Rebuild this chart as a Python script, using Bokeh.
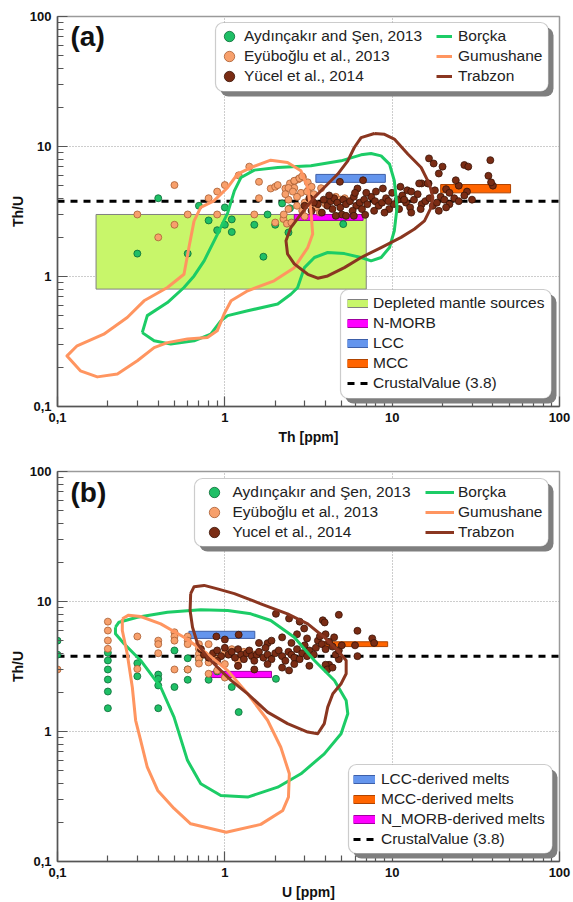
from bokeh.plotting import figure
from bokeh.layouts import column
from bokeh.models import FixedTicker, Legend, LegendItem, BoxAnnotation, Label
from bokeh.embed import file_html
from bokeh.resources import INLINE

FONT = "Liberation Sans"
CRUSTAL_VALUE = 3.8
AXIS_RANGE = (0.1, 100)
MAJOR_TICKS = [0.1, 1, 10, 100]
MINOR_TICKS = [0.2, 0.3, 0.4, 0.5, 0.6, 0.7, 0.8, 0.9,
               2, 3, 4, 5, 6, 7, 8, 9, 20, 30, 40, 50, 60, 70, 80, 90]
TICK_LABELS = {0.1: "0,1", 1: "1", 10: "10", 100: "100"}

GREEN_FILL, GREEN_EDGE = "#1fbf66", "#0b6a36"
ORANGE_FILL, ORANGE_EDGE = "#f7a06c", "#a85e34"
BROWN_FILL, BROWN_EDGE = "#7a2c14", "#3a1407"
GREEN_LINE, ORANGE_LINE, BROWN_LINE = "#1ccc66", "#ff9560", "#8a3620"
LIME, MAGENTA, BLUE, MCC_ORANGE = "#c8f66a", "#ff00ff", "#6495ed", "#ff6400"

# ---------------- panel (a): Th vs Th/U ----------------
a_aydincakir = [(0.40, 4.0), (0.70, 3.5), (1.0, 3.4), (2.2, 3.65), (2.45, 3.35), (0.80, 2.7),
                (1.1, 2.75), (1.0, 2.5), (0.9, 2.27), (1.1, 2.2), (1.5, 2.5), (1.8, 3.0),
                (2.0, 2.5), (2.4, 2.18), (5.1, 2.53), (0.30, 1.5), (0.60, 1.5), (1.7, 1.42)]
a_eyuboglu = [(0.5, 5.05), (0.3, 3.0), (0.6, 3.0), (0.5, 2.5), (0.4, 2.0), (0.9, 3.0), (0.8, 4.0),
              (0.9, 4.5), (1.0, 5.05), (1.21, 6.0), (1.4, 7.0), (1.6, 5.35), (1.6, 4.0), (1.5, 3.0),
              (1.88, 4.75), (2.0, 4.9), (2.07, 5.05), (2.3, 4.75), (2.45, 5.2), (2.6, 5.4),
              (2.75, 5.6), (2.93, 5.78), (2.24, 2.77), (2.35, 2.55), (2.4, 3.3), (2.4, 3.9),
              (2.6, 5.45), (2.79, 5.7), (2.9, 5.9), (3.13, 5.3), (3.2, 4.8), (2.6, 4.8), (2.4, 4.8),
              (2.55, 4.5), (2.85, 4.4), (3.1, 4.5), (3.3, 4.9), (3.76, 4.78), (2.25, 3.0), (2.5, 2.6),
              (2.7, 3.5), (2.9, 3.2), (3.0, 3.7), (3.3, 3.9), (3.5, 3.4), (3.7, 3.1), (4.0, 3.6),
              (4.3, 4.0), (4.6, 4.1), (4.9, 3.9), (5.2, 4.0), (5.4, 3.8), (2.3, 4.3), (2.7, 4.1),
              (3.4, 4.3), (2.0, 2.6), (3.0, 2.9)]
a_yucel = [(4.87, 5.35), (6.7, 5.5), (16.6, 8.1), (17.7, 7.4), (20.0, 7.0), (19.0, 6.2), (27.0, 7.2),
           (28.5, 7.0), (38.6, 7.85), (37.6, 5.95), (40.0, 5.0), (39.0, 5.3), (25.0, 5.0), (24.0, 5.5),
           (28.0, 4.5), (21.0, 4.7), (22.0, 4.4), (16.5, 5.2), (15.0, 5.2), (11.2, 4.9), (6.2, 4.75),
           (8.8, 4.75), (12.3, 4.6), (14.5, 5.2), (16.3, 5.2), (3.6, 3.6), (3.9, 3.9), (4.1, 3.5),
           (4.3, 3.8), (4.5, 4.0), (4.7, 3.7), (4.9, 3.4), (5.1, 3.9), (5.3, 3.6), (5.6, 3.8),
           (5.9, 4.1), (6.1, 3.5), (6.4, 3.7), (6.8, 3.9), (7.1, 3.6), (7.5, 4.1), (7.9, 3.8),
           (8.3, 3.5), (8.7, 3.7), (9.2, 4.0), (9.6, 3.3), (10.2, 3.6), (10.8, 3.9), (11.5, 4.2),
           (12.1, 3.7), (12.8, 3.4), (13.5, 3.9), (14.2, 4.3), (15.0, 3.6), (15.8, 3.8), (16.7, 4.0),
           (17.5, 3.5), (18.5, 3.7), (19.5, 4.1), (20.5, 3.9), (22.0, 3.6), (23.5, 4.0), (25.0, 3.8),
           (27.0, 4.2), (30.0, 3.9), (3.3, 3.2), (3.8, 3.1), (4.4, 3.3), (5.0, 3.0), (5.8, 3.2),
           (6.6, 3.3), (7.8, 3.2), (9.0, 3.1), (11.0, 3.3), (13.0, 3.1), (14.8, 3.3), (19.0, 3.2),
           (21.0, 3.4), (4.6, 2.93), (5.3, 2.93), (5.9, 2.93), (6.9, 2.98), (6.0, 4.4), (7.0, 4.4),
           (8.0, 4.5), (10.0, 4.4), (13.0, 4.5), (18.0, 4.6), (9.5, 3.8), (11.8, 3.9), (4.2, 4.2),
           (3.4, 3.7), (3.0, 3.5), (3.2, 4.0)]

a_borcka_th = [0.321, 0.344, 0.454, 0.57, 0.655, 0.752, 0.904, 1.04, 1.14, 1.25, 1.50, 2.07, 3.27,
               4.95, 6.52, 7.48, 8.59, 9.64, 10.3, 10.7, 10.3, 9.64, 8.59, 7.48, 6.52, 5.18, 4.12,
               3.43, 2.99, 2.72, 2.48, 2.07, 1.37, 1.04, 0.946, 0.824, 0.655, 0.475, 0.378]
a_borcka_ratio = [0.37, 0.50, 0.63, 0.823, 1.01, 1.32, 2.12, 3.09, 4.56, 5.78, 6.58, 6.89, 7.11,
                  7.76, 8.63, 8.83, 8.47, 7.32, 5.45, 3.40, 2.25, 1.67, 1.40, 1.32, 1.40, 1.50, 1.53,
                  1.40, 1.17, 0.82, 0.73, 0.614, 0.545, 0.50, 0.456, 0.36, 0.32, 0.302, 0.32]
a_gumushane_th = [0.655, 0.718, 0.86, 1.04, 1.19, 1.43, 1.88, 2.37, 2.85, 3.13, 3.27, 3.35, 3.13,
                  2.60, 1.97, 1.37, 1.09, 0.99, 0.90, 0.787, 0.598, 0.454, 0.378, 0.30, 0.228,
                  0.173, 0.137, 0.114, 0.131, 0.189, 0.261, 0.329, 0.454, 0.57, 0.61]
a_gumushane_ratio = [2.68, 3.40, 3.82, 4.84, 6.14, 6.89, 7.85, 7.53, 6.50, 4.84, 3.20, 2.12, 1.67,
                     1.17, 0.927, 0.776, 0.65, 0.514, 0.382, 0.34, 0.33, 0.31, 0.284, 0.225, 0.178,
                     0.169, 0.188, 0.245, 0.293, 0.36, 0.484, 0.65, 0.823, 1.04, 1.67]
a_trabzon_th = [7.83, 6.52, 5.94, 5.43, 4.73, 3.93, 3.43, 2.85, 2.48, 2.32, 2.37, 2.60, 3.13, 3.59,
                4.12, 5.18, 6.52, 8.59, 11.3, 13.6, 15.6, 17.1, 17.5, 16.7, 14.9, 12.4, 10.3, 9.0]
a_trabzon_ratio = [12.6, 11.7, 9.82, 7.76, 6.14, 4.84, 4.06, 3.02, 2.38, 1.88, 1.49, 1.25, 1.04, 0.97,
                   1.01, 1.17, 1.40, 1.67, 2.0, 2.32, 2.68, 3.40, 4.06, 5.14, 6.89, 8.75, 11.4, 12.4]

# boxes: (left, right, bottom, top)
a_depleted = (0.17, 7.0, 0.8, 3.0)
a_nmorb = (2.6, 6.7, 2.7, 3.0)
a_lcc = (3.5, 9.1, 5.3, 6.1)
a_mcc = (19.5, 51.0, 4.4, 5.1)

# ---------------- panel (b): U vs Th/U ----------------
b_aydincakir = [(0.1, 5.0), (0.1, 3.9), (0.2, 4.03), (0.2, 3.52), (0.2, 3.0), (0.2, 2.51), (0.2, 2.03),
                (0.2, 1.51), (0.3, 3.35), (0.3, 2.66), (0.4, 2.74), (0.4, 2.54), (0.4, 2.26),
                (0.4, 1.51), (0.5, 4.2), (0.5, 2.2), (0.6, 3.66), (0.6, 3.0), (0.6, 2.5), (0.7, 3.6),
                (0.8, 2.5), (0.9, 2.9), (1.1, 2.2), (1.21, 1.41), (2.02, 2.54)]
b_eyuboglu = [(0.1, 3.0), (0.2, 7.0), (0.2, 5.98), (0.2, 5.01), (0.2, 4.33), (0.3, 5.38), (0.3, 3.03),
              (0.4, 5.0), (0.4, 4.7), (0.4, 4.0), (0.5, 5.8), (0.5, 5.38), (0.5, 5.0), (0.5, 3.0),
              (0.6, 5.38), (0.6, 5.0), (0.6, 4.7), (0.6, 3.0), (0.7, 4.7), (0.7, 4.33), (0.7, 3.96),
              (0.7, 3.64), (0.7, 3.33), (0.8, 4.7), (0.8, 2.78), (0.9, 2.95), (1.0, 2.6), (1.0, 4.0),
              (1.1, 4.3), (1.2, 3.5), (1.2, 3.2), (1.3, 4.1), (1.5, 3.9), (0.9, 3.6), (1.0, 3.3),
              (0.8, 3.4)]
b_yucel = [(2.02, 8.04), (2.42, 7.4), (2.8, 7.0), (2.98, 6.2), (3.85, 7.17), (3.95, 6.9), (4.8, 7.9),
           (4.0, 5.6), (6.2, 5.95), (7.6, 5.2), (7.8, 4.8), (6.0, 4.6), (6.2, 3.8), (4.8, 3.6),
           (4.2, 3.26), (4.0, 3.26), (0.89, 5.38), (1.21, 5.55), (1.8, 4.78), (2.42, 2.95),
           (0.72, 4.3), (0.75, 3.9), (0.8, 3.7), (0.85, 4.0), (0.9, 4.2), (0.95, 3.8), (1.0, 4.4),
           (1.05, 3.9), (1.1, 4.1), (1.15, 3.7), (1.2, 4.3), (1.25, 3.9), (1.3, 3.6), (1.35, 4.0),
           (1.4, 4.2), (1.45, 3.8), (1.5, 3.5), (1.55, 3.9), (1.6, 4.1), (1.7, 3.7), (1.75, 4.4),
           (1.8, 3.9), (1.9, 3.6), (2.0, 4.0), (2.1, 4.2), (2.2, 3.8), (2.3, 3.5), (2.4, 4.1),
           (2.5, 3.9), (2.6, 3.7), (2.7, 4.3), (2.8, 3.6), (2.9, 4.0), (3.0, 4.6), (3.1, 3.8),
           (3.2, 4.2), (3.4, 3.9), (3.5, 4.4), (3.6, 5.0), (3.8, 4.7), (4.0, 4.3), (4.2, 4.9),
           (4.4, 4.5), (4.6, 3.9), (4.8, 4.2), (5.0, 4.6), (1.2, 3.2), (1.5, 3.0), (1.8, 3.3),
           (2.2, 3.1), (2.6, 3.3), (3.2, 3.2), (4.1, 3.0), (4.4, 3.1), (1.9, 5.0), (2.2, 5.3),
           (1.6, 4.8), (2.5, 4.8), (2.7, 5.6), (3.1, 5.2), (4.5, 5.3), (3.7, 5.4), (1.0, 5.1),
           (0.9, 3.5)]

b_borcka_u = [0.222, 0.233, 0.30, 0.454, 0.718, 1.04, 1.43, 1.88, 2.60, 3.43, 4.52, 5.31, 5.43,
              4.95, 3.93, 2.85, 2.07, 1.37, 0.946, 0.718, 0.598, 0.497, 0.414, 0.314, 0.25, 0.222]
b_borcka_ratio = [6.34, 6.93, 7.57, 8.27, 8.63, 8.53, 8.04, 7.14, 5.31, 3.52, 2.47, 1.73, 1.37,
                  0.96, 0.673, 0.473, 0.373, 0.313, 0.322, 0.396, 0.60, 1.29, 2.19, 3.52, 4.73, 5.65]
b_gumushane_u = [0.244, 0.266, 0.314, 0.414, 0.57, 0.787, 1.04, 1.37, 1.80, 2.16, 2.43, 2.40, 2.22,
                 1.64, 1.02, 0.625, 0.497, 0.397, 0.344, 0.314, 0.293, 0.28, 0.261, 0.244]
b_gumushane_ratio = [7.36, 7.85, 7.67, 6.73, 5.31, 3.96, 2.94, 1.95, 1.22, 0.757, 0.473, 0.313,
                     0.247, 0.193, 0.168, 0.195, 0.256, 0.352, 0.531, 0.853, 1.22, 2.19, 3.96, 5.98]
b_trabzon_u = [0.625, 0.655, 0.752, 0.904, 1.14, 1.64, 2.37, 3.13, 3.93, 4.73, 5.31, 5.31, 4.95,
               4.42, 4.12, 3.93, 3.59, 3.13, 2.37, 1.80, 1.37, 1.09, 0.904, 0.787, 0.687, 0.641, 0.62]
b_trabzon_ratio = [11.5, 13.0, 13.3, 12.5, 11.5, 9.6, 8.04, 6.73, 5.31, 4.20, 3.52, 2.78, 2.33,
                   1.95, 1.54, 1.15, 0.96, 0.99, 1.15, 1.41, 1.95, 2.47, 3.12, 3.73, 4.73, 6.34, 8.52]

b_lcc = (0.61, 1.51, 5.2, 5.9)
b_nmorb = (0.82, 1.9, 2.6, 2.9)
b_mcc = (3.8, 9.4, 4.5, 4.9)

POINT_LABELS_A = ["Aydınçakır and Şen, 2013", "Eyüboğlu et al., 2013", "Yücel et al., 2014"]
POINT_LABELS_B = ["Aydınçakır and Şen, 2013", "Eyüboğlu et al., 2013", "Yucel et al., 2014"]
FIELD_LABELS = ["Borçka", "Gumushane", "Trabzon"]


def make_fig(top_border, bottom_border, xlabel):
    p = figure(width=573, height=451, x_axis_type="log", y_axis_type="log",
               x_range=AXIS_RANGE, y_range=AXIS_RANGE, output_backend="svg",
               toolbar_location=None, min_border_left=57, min_border_right=14,
               min_border_top=top_border, min_border_bottom=bottom_border)
    p.background_fill_color = "white"
    p.border_fill_color = "white"
    p.outline_line_color = "#9a9a9a"
    p.outline_line_width = 1.5
    for ax in (p.xaxis[0], p.yaxis[0]):
        ax.ticker = FixedTicker(ticks=MAJOR_TICKS, minor_ticks=MINOR_TICKS)
        ax.major_label_overrides = TICK_LABELS
        ax.axis_line_color = "#555555"
        ax.axis_line_width = 1.5
        ax.major_tick_in = 10
        ax.major_tick_out = 0
        ax.minor_tick_in = 6
        ax.minor_tick_out = 0
        ax.major_tick_line_color = "#555555"
        ax.minor_tick_line_color = "#555555"
        ax.major_tick_line_width = 1.2
        ax.minor_tick_line_width = 1.2
        ax.major_label_text_font = FONT
        ax.major_label_text_font_style = "bold"
        ax.major_label_text_font_size = "13px"
        ax.major_label_text_color = "#111111"
        ax.axis_label_text_font = FONT
        ax.axis_label_text_font_style = "bold"
        ax.axis_label_text_font_size = "14px"
        ax.axis_label_text_color = "#111111"
    p.xaxis[0].major_label_standoff = 6
    p.yaxis[0].major_label_standoff = 6
    p.xaxis[0].axis_label = xlabel
    p.xaxis[0].axis_label_standoff = 4
    p.yaxis[0].axis_label = "Th/U"
    p.yaxis[0].axis_label_standoff = 1
    for g in (p.xgrid[0], p.ygrid[0]):
        g.grid_line_color = "#9a9a9a"
        g.grid_line_dash = "1 2"
        g.grid_line_width = 1
    return p


def add_box(p, box, fill, edge):
    l, r, b, t = box
    return p.quad(left=[l], right=[r], bottom=[b], top=[t], fill_color=fill,
                  line_color=edge, line_width=1)


def add_points(p, pts, fill, edge):
    xs = [q[0] for q in pts]
    ys = [q[1] for q in pts]
    return p.scatter(xs, ys, marker="circle", size=7, fill_color=fill, line_color=edge,
                     line_width=0.8)


def add_field(p, xs, ys, color):
    return p.line(list(xs) + [xs[0]], list(ys) + [ys[0]], line_color=color, line_width=3,
                  line_join="round")


def patch_proxy(p, box, fill, edge):
    # single-point lines: invisible in the plot, used only as legend swatches
    r1 = p.line([box[0]], [box[2]], line_color=edge, line_width=9, line_cap="butt")
    r2 = p.line([box[0]], [box[2]], line_color=fill, line_width=7, line_cap="butt")
    return [r1, r2]


def legend_frame(p, left, right, top, bottom):
    shadow = BoxAnnotation(left=left + 5, right=right + 5, top=top + 5, bottom=bottom + 5,
                           left_units="canvas", right_units="canvas", top_units="canvas",
                           bottom_units="canvas", fill_color="#7f7f7f", fill_alpha=1,
                           line_color=None, border_radius=8)
    frame = BoxAnnotation(left=left, right=right, top=top, bottom=bottom,
                          left_units="canvas", right_units="canvas", top_units="canvas",
                          bottom_units="canvas", fill_color="white", fill_alpha=1,
                          line_color="#555555", line_width=1.2, border_radius=8)
    p.add_layout(shadow)
    p.add_layout(frame)


def make_legend(items, loc, gw, gh, standoff):
    return Legend(items=items, location=loc, glyph_width=gw, glyph_height=gh, spacing=0,
                  label_standoff=standoff, padding=0, margin=0, border_line_color=None,
                  background_fill_alpha=0, label_text_font=FONT, label_text_font_size="15.5px",
                  label_text_color="#222222", label_height=16)


def stacked_legends(p, labels, renderers, x, y_top_row, gw, standoff):
    # one legend per row so that rows sit 20 px apart with 26 px glyph boxes
    for i, (lab, r) in enumerate(zip(labels, renderers)):
        p.add_layout(make_legend([LegendItem(label=lab, renderers=[r])],
                                 (x, y_top_row - 20 * i), gw, 26, standoff))


def crustal(p):
    return p.line(list(AXIS_RANGE), [CRUSTAL_VALUE, CRUSTAL_VALUE], line_color="black",
                  line_width=3, line_dash="7 6")


# ================= panel (a) =================
pa = make_fig(16, 45, "Th [ppm]")
add_box(pa, a_depleted, LIME, "#808080")
crustal_a = crustal(pa)
add_box(pa, a_lcc, BLUE, "#3d5fa8")
add_box(pa, a_mcc, MCC_ORANGE, "#b04400")
add_box(pa, a_nmorb, MAGENTA, "#a000a0")
ga = add_points(pa, a_aydincakir, GREEN_FILL, GREEN_EDGE)
oa = add_points(pa, a_eyuboglu, ORANGE_FILL, ORANGE_EDGE)
ba = add_points(pa, a_yucel, BROWN_FILL, BROWN_EDGE)
lg = add_field(pa, a_borcka_th, a_borcka_ratio, GREEN_LINE)
lo = add_field(pa, a_gumushane_th, a_gumushane_ratio, ORANGE_LINE)
lb = add_field(pa, a_trabzon_th, a_trabzon_ratio, BROWN_LINE)

legend_frame(pa, 215, 548, 22, 91)
legend_frame(pa, 340, 551, 289, 398)
stacked_legends(pa, POINT_LABELS_A, [ga, oa, ba], 159, 356.7, 26, 2)
stacked_legends(pa, FIELD_LABELS, [lg, lo, lb], 379, 356.7, 16, 6)
pa.add_layout(make_legend([
    LegendItem(label="Depleted mantle sources", renderers=patch_proxy(pa, a_depleted, LIME, "#808080")),
    LegendItem(label="N-MORB", renderers=patch_proxy(pa, a_nmorb, MAGENTA, "#a000a0")),
    LegendItem(label="LCC", renderers=patch_proxy(pa, a_lcc, BLUE, "#3d5fa8")),
    LegendItem(label="MCC", renderers=patch_proxy(pa, a_mcc, MCC_ORANGE, "#b04400")),
    LegendItem(label="CrustalValue (3.8)", renderers=[crustal_a]),
], (290, 13), 21, 20, 5))
pa.add_layout(Label(x=13, y=355, x_units="screen", y_units="screen", text="(a)",
                    text_font=FONT, text_font_style="bold", text_font_size="28px",
                    text_color="#111111"))

# ================= panel (b) =================
pb = make_fig(20, 41, "U [ppm]")
crustal_b = crustal(pb)
add_box(pb, b_lcc, BLUE, "#3d5fa8")
add_box(pb, b_mcc, MCC_ORANGE, "#b04400")
add_box(pb, b_nmorb, MAGENTA, "#a000a0")
gb = add_points(pb, b_aydincakir, GREEN_FILL, GREEN_EDGE)
ob = add_points(pb, b_eyuboglu, ORANGE_FILL, ORANGE_EDGE)
bb = add_points(pb, b_yucel, BROWN_FILL, BROWN_EDGE)
mg = add_field(pb, b_borcka_u, b_borcka_ratio, GREEN_LINE)
mo = add_field(pb, b_gumushane_u, b_gumushane_ratio, ORANGE_LINE)
mb = add_field(pb, b_trabzon_u, b_trabzon_ratio, BROWN_LINE)

legend_frame(pb, 194, 548, 27, 95)
legend_frame(pb, 348, 552, 313, 402)
stacked_legends(pb, POINT_LABELS_B, [gb, ob, bb], 143.5, 356.3, 26, 6)
stacked_legends(pb, FIELD_LABELS, [mg, mo, mb], 368, 356.3, 29, 4)
pb.add_layout(make_legend([
    LegendItem(label="LCC-derived melts", renderers=patch_proxy(pb, b_lcc, BLUE, "#3d5fa8")),
    LegendItem(label="MCC-derived melts", renderers=patch_proxy(pb, b_mcc, MCC_ORANGE, "#b04400")),
    LegendItem(label="N_MORB-derived melts", renderers=patch_proxy(pb, b_nmorb, MAGENTA, "#a000a0")),
    LegendItem(label="CrustalValue (3.8)", renderers=[crustal_b]),
], (296, 12), 22, 20, 6))
pb.add_layout(Label(x=13, y=354, x_units="screen", y_units="screen", text="(b)",
                    text_font=FONT, text_font_style="bold", text_font_size="28px",
                    text_color="#111111"))

layout = column(pa, pb)
open("out.html", "w").write(file_html(layout, INLINE))
